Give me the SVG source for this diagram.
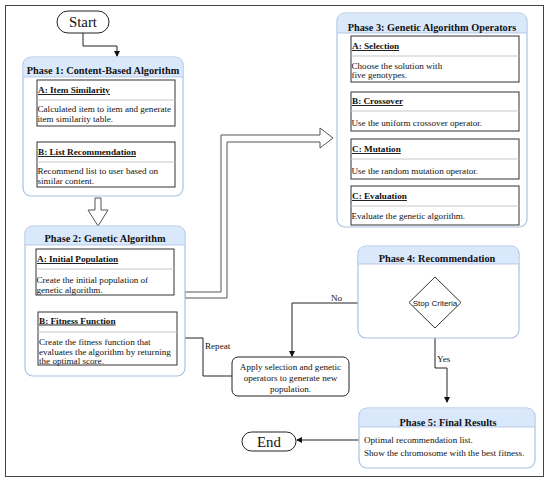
<svg xmlns="http://www.w3.org/2000/svg" width="550" height="482" viewBox="0 0 550 482">
<defs>
<marker id="ah" markerWidth="6" markerHeight="6" refX="5" refY="3" orient="auto" markerUnits="userSpaceOnUse">
<path d="M0,0 L6,3 L0,6 Z" fill="#111"/>
</marker>
<style>
.frame{fill:#fff;stroke:#444;stroke-width:1}
.cont{fill:#fff;stroke:#a9c0e0;stroke-width:1.2}
.hdr{fill:#dae8fc;stroke:none}
.hline{stroke:#a9c0e0;stroke-width:0.8}
.box{fill:#fff;stroke:#333;stroke-width:1}
.sep{stroke:#c8c8c8;stroke-width:1.2}
.pill{fill:#fff;stroke:#222;stroke-width:1}
.conn{fill:none;stroke:#222;stroke-width:1}
.hollow{fill:#fff;stroke:#555;stroke-width:1}
.ph{font-size:10.3px;font-weight:bold;text-anchor:middle}
.bt{font-size:9.2px;font-weight:bold;text-decoration:underline}
.bd{font-size:9.1px}
.lbl{font-size:9.1px}
.big{font-size:14.8px;text-anchor:middle}
</style>
</defs>
<rect class="frame" x="5.5" y="5.5" width="538" height="471"/>
<g font-family="'Liberation Serif', 'Times New Roman', serif" fill="#111">
<g id="connectors">
<path class="conn" d="M83,33 V46 H117 V56" marker-end="url(#ah)"/>
<path class="conn" d="M106,126 V141" marker-end="url(#ah)"/>
<polygon class="hollow" points="95,198 101,198 101,210 108,210 98,226 88,210 95,210"/>
<path class="conn" d="M107,295 V311" marker-end="url(#ah)"/>
<path class="conn" d="M232,376 H203 V338 H178" marker-end="url(#ah)"/>
<polygon class="hollow" points="185,292 221,292 221,135 320,135 320,128 333,138 320,148 320,142 227,142 227,298 185,298"/>
<path class="conn" d="M435,82 V91" marker-end="url(#ah)"/>
<path class="conn" d="M435,131 V138" marker-end="url(#ah)"/>
<path class="conn" d="M435,179 V185" marker-end="url(#ah)"/>
<path class="conn" d="M409,303 H292 V356" marker-end="url(#ah)"/>
<path class="conn" d="M435,328 V368 H447 V402" marker-end="url(#ah)"/>
<path class="conn" d="M359,440 H297" marker-end="url(#ah)"/>
<text class="lbl" x="205" y="348.5">Repeat</text>
<text class="lbl" x="331" y="301">No</text>
<text class="lbl" x="437" y="362">Yes</text>
</g>

<g id="start">
<rect class="pill" x="57" y="11" width="52" height="22" rx="11"/>
<text class="big" x="83" y="27">Start</text>
</g>

<g id="phase1">
<rect class="cont" x="23" y="57" width="160" height="139" rx="8"/>
<path class="hdr" d="M23.6,77 V65 Q23.6,57.6 31,57.6 H175 Q182.4,57.6 182.4,65 V77 Z"/>
<line class="hline" x1="23" y1="77" x2="183" y2="77"/>
<text class="ph" x="103" y="74">Phase 1: Content-Based Algorithm</text>
<g id="p1a">
<rect class="box" x="37" y="80" width="138" height="46"/>
<line class="sep" x1="37" y1="100" x2="175" y2="100"/>
<text class="bt" x="38" y="93">A: Item Similarity</text>
<text class="bd" x="37.5" y="112">Calculated item to item and generate</text>
<text class="bd" x="37.5" y="122">item similarity table.</text>
</g>
<g id="p1b">
<rect class="box" x="37" y="142" width="138" height="45"/>
<line class="sep" x1="37" y1="162" x2="175" y2="162"/>
<text class="bt" x="38" y="155">B: List Recommendation</text>
<text class="bd" x="37.5" y="174">Recommend list to user based on</text>
<text class="bd" x="37.5" y="184">similar content.</text>
</g>
</g>

<g id="phase2">
<rect class="cont" x="25" y="226" width="160" height="150" rx="8"/>
<path class="hdr" d="M25.6,245 V234 Q25.6,226.6 33,226.6 H177 Q184.4,226.6 184.4,234 V245 Z"/>
<line class="hline" x1="25" y1="245" x2="185" y2="245"/>
<text class="ph" x="105" y="242">Phase 2: Genetic Algorithm</text>
<g id="p2a">
<rect class="box" x="36" y="249" width="138" height="46"/>
<line class="sep" x1="36" y1="269" x2="174" y2="269"/>
<text class="bt" x="37" y="262">A: Initial Population</text>
<text class="bd" x="36.5" y="283">Create the initial population of</text>
<text class="bd" x="36.5" y="292.5">genetic algorithm.</text>
</g>
<g id="p2b">
<rect class="box" x="38" y="312" width="139" height="53"/>
<line class="sep" x1="38" y1="332" x2="177" y2="332"/>
<text class="bt" x="39" y="323.5">B: Fitness Function</text>
<text class="bd" x="39" y="345">Create the fitness function that</text>
<text class="bd" x="39" y="354.5">evaluates the algorithm by returning</text>
<text class="bd" x="39" y="364">the optimal score.</text>
</g>
</g>

<g id="phase3">
<rect class="cont" x="337" y="13" width="190" height="214" rx="8"/>
<path class="hdr" d="M337.6,33 V21 Q337.6,13.6 345,13.6 H519 Q526.4,13.6 526.4,21 V33 Z"/>
<line class="hline" x1="337" y1="33" x2="527" y2="33"/>
<text class="ph" x="432" y="31">Phase 3: Genetic Algorithm Operators</text>
<g id="p3a">
<rect class="box" x="351" y="36" width="168" height="46"/>
<line class="sep" x1="351" y1="56" x2="519" y2="56"/>
<text class="bt" x="352" y="49">A: Selection</text>
<text class="bd" x="351.5" y="68.5">Choose the solution with</text>
<text class="bd" x="351.5" y="78">five genotypes.</text>
</g>
<g id="p3b">
<rect class="box" x="351" y="92" width="168" height="39"/>
<line class="sep" x1="351" y1="111" x2="519" y2="111"/>
<text class="bt" x="352" y="104">B: Crossover</text>
<text class="bd" x="351.5" y="126">Use the uniform crossover operator.</text>
</g>
<g id="p3c">
<rect class="box" x="351" y="139" width="168" height="40"/>
<line class="sep" x1="351" y1="159" x2="519" y2="159"/>
<text class="bt" x="352" y="152">C: Mutation</text>
<text class="bd" x="351.5" y="174">Use the random mutation operator.</text>
</g>
<g id="p3d">
<rect class="box" x="351" y="186" width="168" height="39"/>
<line class="sep" x1="351" y1="206" x2="519" y2="206"/>
<text class="bt" x="352" y="199">C: Evaluation</text>
<text class="bd" x="351.5" y="219">Evaluate the genetic algorithm.</text>
</g>
</g>

<g id="phase4">
<rect class="cont" x="358" y="246" width="161" height="92" rx="8"/>
<path class="hdr" d="M358.6,264 V254 Q358.6,246.6 366,246.6 H511 Q518.4,246.6 518.4,254 V264 Z"/>
<line class="hline" x1="358" y1="264" x2="519" y2="264"/>
<text class="ph" x="437" y="262">Phase 4: Recommendation</text>
<g id="stop">
<polygon class="box" points="435,277 461,302.5 435,328 409,302.5"/>
<text x="435" y="305.5" font-family="'Liberation Sans', Arial, sans-serif" font-size="8" text-anchor="middle">Stop Criteria</text>
</g>
</g>

<g id="apply">
<rect class="pill" x="232" y="357" width="117" height="39" rx="6"/>
<text class="lbl" x="290.5" y="369.5" text-anchor="middle">Apply selection and genetic</text>
<text class="lbl" x="290.5" y="380.5" text-anchor="middle">operators to generate new</text>
<text class="lbl" x="290.5" y="391.5" text-anchor="middle">population.</text>
</g>

<g id="phase5">
<rect class="cont" x="359" y="408" width="176" height="60" rx="8"/>
<path class="hdr" d="M359.6,427 V416 Q359.6,408.6 367,408.6 H527 Q534.4,408.6 534.4,416 V427 Z"/>
<line class="hline" x1="359" y1="427" x2="535" y2="427"/>
<text class="ph" x="448" y="425.5">Phase 5: Final Results</text>
<text class="bd" x="364" y="443">Optimal recommendation list.</text>
<text class="bd" x="364" y="456">Show the chromosome with the best fitness.</text>
</g>

<g id="end">
<rect class="pill" x="242" y="432" width="54" height="19" rx="9.5"/>
<text class="big" x="269" y="446.5">End</text>
</g>
</g>
</svg>
